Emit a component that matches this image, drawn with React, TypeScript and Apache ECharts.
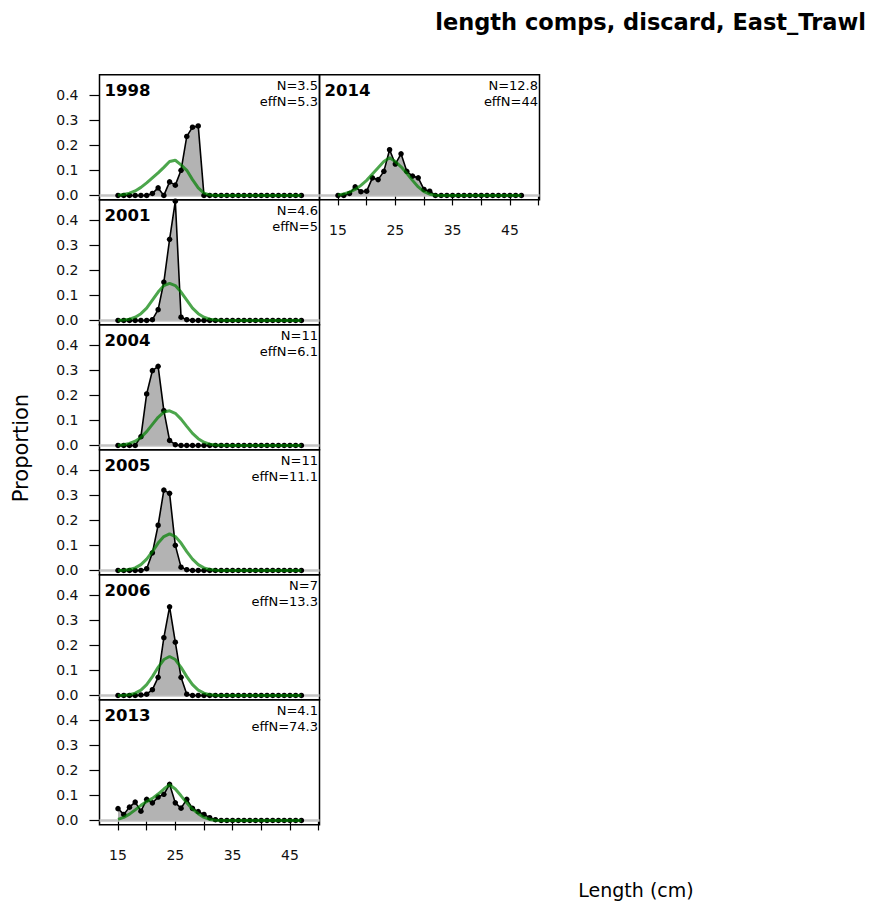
import React, { useEffect, useRef } from "react";
import * as echarts from "echarts";

// Length bins (cm)
const LENGTHS = [
  15, 16, 17, 18, 19, 20, 21, 22, 23, 24, 25, 26, 27, 28, 29, 30, 31,
  32, 33, 34, 35, 36, 37, 38, 39, 40, 41, 42, 43, 44, 45, 46, 47,
];

// Observed proportions per year
const OBS_1998 = [0, 0, 0, 0, 0, 0, 0.008, 0.03, 0, 0.054, 0.041, 0.1, 0.235, 0.272, 0.277, 0, 0, 0, 0, 0, 0, 0, 0, 0, 0, 0, 0, 0, 0, 0, 0, 0, 0];
const OBS_2001 = [0, 0, 0, 0, 0, 0, 0.003, 0.043, 0.153, 0.323, 0.475, 0.013, 0.003, 0, 0, 0, 0, 0, 0, 0, 0, 0, 0, 0, 0, 0, 0, 0, 0, 0, 0, 0, 0];
const OBS_2004 = [0, 0, 0, 0, 0.035, 0.205, 0.298, 0.315, 0.139, 0.02, 0.003, 0, 0, 0, 0, 0, 0, 0, 0, 0, 0, 0, 0, 0, 0, 0, 0, 0, 0, 0, 0, 0, 0];
const OBS_2005 = [0, 0, 0, 0, 0, 0.007, 0.07, 0.18, 0.32, 0.307, 0.1, 0.013, 0.003, 0, 0, 0, 0, 0, 0, 0, 0, 0, 0, 0, 0, 0, 0, 0, 0, 0, 0, 0, 0];
const OBS_2006 = [0, 0, 0, 0, 0.002, 0.005, 0.023, 0.072, 0.23, 0.353, 0.212, 0.072, 0.005, 0, 0, 0, 0, 0, 0, 0, 0, 0, 0, 0, 0, 0, 0, 0, 0, 0, 0, 0, 0];
const OBS_2013 = [0.047, 0.024, 0.053, 0.073, 0.037, 0.084, 0.07, 0.093, 0.104, 0.144, 0.07, 0.049, 0.084, 0.048, 0.035, 0.024, 0.011, 0.003, 0, 0, 0, 0, 0, 0, 0, 0, 0, 0, 0, 0, 0, 0, 0];
const OBS_2014 = [0, 0, 0.008, 0.034, 0.015, 0.017, 0.07, 0.063, 0.096, 0.182, 0.125, 0.166, 0.096, 0.077, 0.07, 0.024, 0.017, 0, 0, 0, 0, 0, 0, 0, 0, 0, 0, 0, 0, 0, 0, 0, 0];

// Expected proportions per year
const EXP_1998 = [0.001, 0.004, 0.009, 0.018, 0.032, 0.05, 0.07, 0.09, 0.112, 0.135, 0.14, 0.122, 0.1, 0.063, 0.03, 0.009, 0.002, 0, 0, 0, 0, 0, 0, 0, 0, 0, 0, 0, 0, 0, 0, 0, 0];
const EXP_2001 = [0.0005, 0.002, 0.005, 0.013, 0.027, 0.049, 0.081, 0.113, 0.139, 0.148, 0.139, 0.113, 0.081, 0.049, 0.027, 0.013, 0.005, 0.002, 0.0005, 0, 0, 0, 0, 0, 0, 0, 0, 0, 0, 0, 0, 0, 0];
const EXP_2004 = [0.001, 0.003, 0.008, 0.017, 0.032, 0.055, 0.084, 0.112, 0.133, 0.138, 0.128, 0.105, 0.076, 0.048, 0.027, 0.013, 0.005, 0.002, 0.001, 0, 0, 0, 0, 0, 0, 0, 0, 0, 0, 0, 0, 0, 0];
const EXP_2005 = [0, 0.001, 0.004, 0.01, 0.023, 0.045, 0.075, 0.109, 0.135, 0.146, 0.135, 0.109, 0.075, 0.045, 0.023, 0.01, 0.004, 0.001, 0, 0, 0, 0, 0, 0, 0, 0, 0, 0, 0, 0, 0, 0, 0];
const EXP_2006 = [0, 0.001, 0.003, 0.009, 0.021, 0.043, 0.075, 0.112, 0.143, 0.155, 0.143, 0.112, 0.075, 0.043, 0.021, 0.009, 0.003, 0.001, 0, 0, 0, 0, 0, 0, 0, 0, 0, 0, 0, 0, 0, 0, 0];
const EXP_2013 = [0.004, 0.012, 0.025, 0.042, 0.06, 0.075, 0.088, 0.105, 0.125, 0.142, 0.125, 0.098, 0.07, 0.045, 0.027, 0.012, 0.004, 0.001, 0, 0, 0, 0, 0, 0, 0, 0, 0, 0, 0, 0, 0, 0, 0];
const EXP_2014 = [0.002, 0.006, 0.013, 0.024, 0.04, 0.06, 0.085, 0.11, 0.135, 0.15, 0.135, 0.114, 0.088, 0.06, 0.034, 0.015, 0.005, 0.001, 0, 0, 0, 0, 0, 0, 0, 0, 0, 0, 0, 0, 0, 0, 0];

const YEARS = ["1998", "2001", "2004", "2005", "2006", "2013", "2014"];
const N_LABELS = ["N=3.5", "N=4.6", "N=11", "N=11", "N=7", "N=4.1", "N=12.8"];
const EFFN_LABELS = ["effN=5.3", "effN=5", "effN=6.1", "effN=11.1", "effN=13.3", "effN=74.3", "effN=44"];
const OBS = [OBS_1998, OBS_2001, OBS_2004, OBS_2005, OBS_2006, OBS_2013, OBS_2014];
const EXP = [EXP_1998, EXP_2001, EXP_2004, EXP_2005, EXP_2006, EXP_2013, EXP_2014];

// Panel slots: column, row
const SLOTS = [
  [0, 0], [0, 1], [0, 2], [0, 3], [0, 4], [0, 5], [1, 0],
];

const Y_TICKS = [0, 0.1, 0.2, 0.3, 0.4];
const X_TICKS = [15, 20, 25, 30, 35, 40, 45, 50];
const X_LABELS = [15, 25, 35, 45];

const TITLE = "length comps, discard, East_Trawl";
const X_TITLE = "Length (cm)";
const Y_TITLE = "Proportion";

// Layout
const W = 871;
const H = 909;
const PANEL_LEFT = 99.5;
const PANEL_TOP = 74.7;
const PANEL_W = 220;
const PANEL_H = 125;
const X_MIN = 11.77;
const X_MAX = 50.16;
const Y_MIN = -0.017;
const Y_MAX = 0.481;
const FONT = '"DejaVu Sans", "Liberation Sans", Arial, sans-serif';

export default function App() {
  const ref = useRef<HTMLDivElement>(null);

  useEffect(() => {
    if (!ref.current) return;
    const chart = echarts.init(ref.current, undefined, { renderer: "svg" });

    const grids: any[] = [];
    const xAxes: any[] = [];
    const yAxes: any[] = [];
    const series: any[] = [];
    const graphics: any[] = [];

    SLOTS.forEach(([col, row], i) => {
      const left = PANEL_LEFT + col * PANEL_W;
      const top = PANEL_TOP + row * PANEL_H;
      // a panel gets an x axis when nothing sits beneath it
      const hasXAxis = !SLOTS.some(([c, r]) => c === col && r === row + 1);
      const hasYAxis = col === 0;

      grids.push({
        left,
        top,
        width: PANEL_W,
        height: PANEL_H,
        show: true,
        borderColor: "#000",
        borderWidth: 1.5,
        backgroundColor: "transparent",
      });

      xAxes.push({
        type: "value",
        gridIndex: i,
        min: X_MIN,
        max: X_MAX,
        show: hasXAxis,
        axisLine: { show: false },
        splitLine: { show: false },
        axisTick: {
          show: true,
          length: 10,
          customValues: X_TICKS,
          lineStyle: { color: "#000", width: 1.2 },
        },
        axisLabel: {
          show: true,
          customValues: X_LABELS,
          margin: 23,
          color: "#111",
          fontSize: 14,
          fontFamily: FONT,
        },
      });

      yAxes.push({
        type: "value",
        gridIndex: i,
        min: Y_MIN,
        max: Y_MAX,
        show: hasYAxis,
        axisLine: { show: false },
        splitLine: { show: false },
        axisTick: {
          show: true,
          length: 10,
          customValues: Y_TICKS,
          lineStyle: { color: "#000", width: 1.2 },
        },
        axisLabel: {
          show: true,
          customValues: Y_TICKS,
          margin: 21,
          color: "#111",
          fontSize: 14,
          fontFamily: FONT,
          formatter: (v: number) => v.toFixed(1),
        },
      });

      // zero reference line
      series.push({
        type: "line",
        xAxisIndex: i,
        yAxisIndex: i,
        data: [
          [X_MIN, 0],
          [X_MAX, 0],
        ],
        symbol: "none",
        lineStyle: { color: "#c4c4c4", width: 2.5 },
        z: 1,
        silent: true,
      });

      // observed composition
      series.push({
        type: "line",
        xAxisIndex: i,
        yAxisIndex: i,
        data: LENGTHS.map((len, k) => [len, OBS[i][k]]),
        symbol: "circle",
        symbolSize: 5.5,
        itemStyle: { color: "#000" },
        lineStyle: { color: "#000", width: 1.6 },
        areaStyle: { color: "#b3b3b3", opacity: 1 },
        z: 2,
        silent: true,
      });

      // expected composition
      series.push({
        type: "line",
        xAxisIndex: i,
        yAxisIndex: i,
        data: LENGTHS.map((len, k) => [len, EXP[i][k]]),
        symbol: "none",
        lineStyle: { color: "rgba(0,128,0,0.7)", width: 3 },
        z: 3,
        silent: true,
      });

      graphics.push({
        type: "text",
        x: left + 5,
        y: top + 16,
        style: {
          text: YEARS[i],
          fill: "#000",
          fontFamily: FONT,
          fontWeight: "bold",
          fontSize: 16.5,
          align: "left",
          verticalAlign: "middle",
        },
        z: 10,
      });
      graphics.push({
        type: "text",
        x: left + PANEL_W - 1.5,
        y: top + 11.2,
        style: {
          text: N_LABELS[i],
          fill: "#000",
          fontFamily: FONT,
          fontSize: 13,
          align: "right",
          verticalAlign: "middle",
        },
        z: 10,
      });
      graphics.push({
        type: "text",
        x: left + PANEL_W - 1.5,
        y: top + 26.8,
        style: {
          text: EFFN_LABELS[i],
          fill: "#000",
          fontFamily: FONT,
          fontSize: 13,
          align: "right",
          verticalAlign: "middle",
        },
        z: 10,
      });
    });

    graphics.push({
      type: "text",
      x: 866,
      y: 22,
      style: {
        text: TITLE,
        fill: "#000",
        fontFamily: FONT,
        fontWeight: "bold",
        fontSize: 22.5,
        align: "right",
        verticalAlign: "middle",
      },
    });
    graphics.push({
      type: "text",
      x: 636,
      y: 890,
      style: {
        text: X_TITLE,
        fill: "#000",
        fontFamily: FONT,
        fontSize: 19,
        align: "center",
        verticalAlign: "middle",
      },
    });
    graphics.push({
      type: "text",
      x: 21,
      y: 448,
      rotation: Math.PI / 2,
      style: {
        text: Y_TITLE,
        fill: "#000",
        fontFamily: FONT,
        fontSize: 21,
        align: "center",
        verticalAlign: "middle",
      },
    });

    chart.setOption({
      animation: false,
      backgroundColor: "#fff",
      grid: grids,
      xAxis: xAxes,
      yAxis: yAxes,
      series,
      graphic: graphics,
    });

    return () => chart.dispose();
  }, []);

  return (
    <div
      ref={ref}
      style={{ position: "fixed", left: 0, top: 0, width: W, height: H, background: "#fff" }}
    />
  );
}
